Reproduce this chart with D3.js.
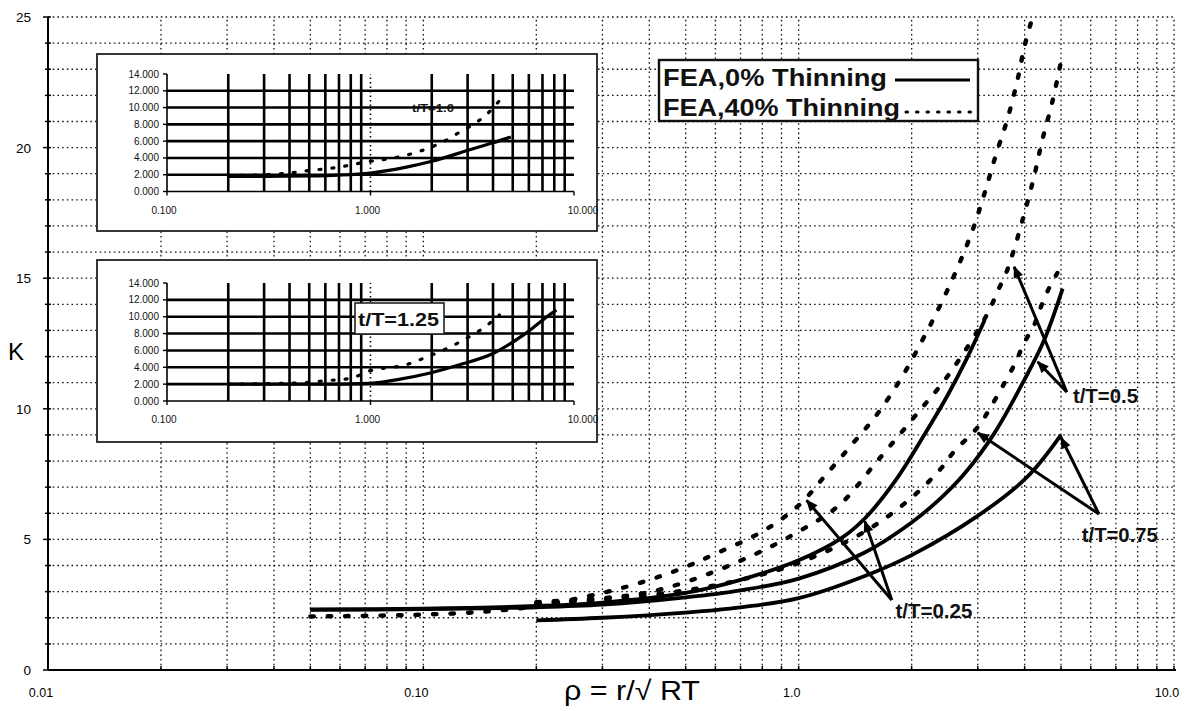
<!DOCTYPE html>
<html>
<head>
<meta charset="utf-8">
<script src="https://cdn.jsdelivr.net/npm/d3@7"></script>
<style>
  html, body { margin: 0; padding: 0; background: #fff; }
  svg { display: block; }
  text { font-family: "Liberation Sans", Arial, sans-serif; fill: #111; }
</style>
</head>
<body>
<svg id="chart" width="1188" height="711"></svg>
<script>
// ---------------- data ----------------
const xTickValues = [0.01, 0.1, 1, 10];
const xTickLabels = ["0.01", "0.10", "1.0", "10.0"];
const yTickValues = [0, 5, 10, 15, 20, 25];

// FEA, 0% thinning (solid curves), rho = r / sqrt(RT) against K
const rhoSolid025 = [0.05, 0.1, 0.2, 0.3, 0.5, 0.7, 1.0, 1.3, 1.5, 1.8, 2.16, 2.49, 2.8, 3.13];
const kSolid025   = [2.32, 2.35, 2.45, 2.58, 2.95, 3.45, 4.2, 5.05, 5.8, 7.2, 9.0, 10.5, 11.9, 13.4];

const rhoSolid050 = [0.05, 0.1, 0.2, 0.3, 0.5, 0.7, 1.0, 1.5, 2.0, 2.4, 2.76, 3.32, 3.99, 4.51, 5.05];
const kSolid050   = [2.3, 2.33, 2.4, 2.5, 2.78, 3.05, 3.5, 4.5, 5.65, 6.6, 7.5, 9.06, 11.1, 12.63, 14.6];

const rhoSolid075 = [0.2, 0.3, 0.5, 0.7, 1.0, 1.5, 2.0, 3.0, 4.07, 5.0];
const kSolid075   = [1.9, 2.0, 2.2, 2.4, 2.75, 3.6, 4.4, 5.9, 7.4, 9.0];

// FEA, 40% thinning (dotted curves)
const rhoDot025 = [0.05, 0.1, 0.15, 0.2, 0.3, 0.4, 0.5, 0.6, 0.8, 1.0, 1.17, 1.38, 1.62, 1.89, 2.14, 2.39, 2.65, 2.9, 3.12, 3.35, 3.6, 3.83, 4.0, 4.2];
const kDot025   = [2.05, 2.12, 2.25, 2.45, 2.95, 3.45, 3.95, 4.45, 5.3, 6.3, 7.4, 8.6, 9.8, 11.25, 12.65, 14.0, 15.4, 16.8, 18.2, 19.7, 21.1, 22.6, 23.9, 25.0];

const rhoDot050 = [0.2, 0.3, 0.39, 0.52, 0.77, 1.0, 1.28, 1.62, 2.12, 2.42, 2.74, 3.06, 3.25, 3.39, 3.57, 3.72, 3.98, 4.24, 4.46, 4.75, 5.0];
const kDot050   = [2.6, 2.75, 2.95, 3.45, 4.45, 5.3, 6.3, 8.0, 10.0, 11.0, 12.1, 13.2, 13.9, 14.5, 15.2, 15.95, 17.4, 18.9, 20.3, 21.8, 23.3];

const rhoDot075 = [0.2, 0.3, 0.5, 0.7, 1.0, 1.5, 2.0, 2.39, 2.59, 3.0, 3.32, 3.57, 3.79, 3.98, 4.24, 4.42, 4.64, 4.89];
const kDot075   = [2.55, 2.7, 3.05, 3.45, 4.1, 5.3, 6.6, 7.7, 8.35, 9.3, 10.3, 11.1, 11.8, 12.5, 13.2, 13.9, 14.6, 15.2];

// inset t/T = 1.0
const insetTickLabelsX = ["0.100", "1.000", "10.000"];
const insetTickValuesY = [0, 2, 4, 6, 8, 10, 12, 14];
const rhoInsetA0  = [0.2, 0.3, 0.5, 0.7, 1.0, 1.5, 2.0, 3.1, 4.0, 4.9];
const kInsetA0    = [1.8, 1.8, 1.85, 1.95, 2.2, 2.9, 3.6, 5.0, 5.8, 6.5];
const rhoInsetA40 = [0.2, 0.3, 0.4, 0.5, 0.6, 0.7, 0.85, 1.0, 1.3, 1.8, 2.35, 2.8, 3.3, 3.8, 4.4];
const kInsetA40   = [1.9, 2.0, 2.2, 2.5, 2.7, 2.9, 3.3, 3.6, 4.0, 4.9, 6.1, 7.2, 8.2, 9.4, 11.1];

// inset t/T = 1.25
const rhoInsetB0  = [0.2, 0.5, 1.0, 1.4, 1.94, 2.74, 4.05, 5.7, 7.75, 8.2];
const kInsetB0    = [2.0, 2.0, 2.1, 2.6, 3.3, 4.3, 5.7, 7.9, 10.4, 10.8];
const rhoInsetB40 = [0.2, 0.3, 0.45, 0.6, 0.8, 1.0, 1.1, 1.5, 1.75, 2.7, 3.7, 4.3];
const kInsetB40   = [2.0, 2.05, 2.15, 2.4, 2.7, 3.6, 3.8, 4.3, 4.9, 6.9, 8.9, 10.2];

// annotation labels and arrow tips, in data units (rho, K)
const annotations = [
  { text: "t/T=0.25", at: [1.81, 1.99], width: 77, from: [1.77, 2.68], tips: [[1.05, 6.5], [1.5, 5.7]] },
  { text: "t/T=0.5",  at: [5.38, 10.22], width: 65, from: [5.18, 10.64], tips: [[3.75, 15.44], [4.33, 11.8]] },
  { text: "t/T=0.75", at: [5.68, 4.9], width: 76, from: [6.31, 5.97], tips: [[3.0, 9.08], [5.0, 8.9]] }
];

// ---------------- layout ----------------
const svg = d3.select("#chart");
const x = d3.scaleLog().domain([0.01, 10]).range([48, 1174]);
const y = d3.scaleLinear().domain([0, 25]).range([670, 17]);

const zip = (xs, ys) => xs.map((v, i) => [v, ys[i]]);

// ---------------- grid ----------------
const grid = svg.append("g").attr("stroke", "#161616").attr("stroke-width", 1.3)
  .attr("stroke-dasharray", "1.6,3.1");
grid.selectAll("line.gx").data(x.ticks().filter(d => d > 0.0101))
  .join("line").attr("class", "gx")
  .attr("x1", d => x(d)).attr("x2", d => x(d))
  .attr("y1", y(0)).attr("y2", y(25));
grid.selectAll("line.gy").data(d3.range(1, 26))
  .join("line").attr("class", "gy")
  .attr("x1", x(0.01)).attr("x2", x(10))
  .attr("y1", d => y(d)).attr("y2", d => y(d));

// ---------------- axes ----------------
const axes = svg.append("g").attr("stroke", "#000");
axes.append("line").attr("x1", x(0.01)).attr("x2", x(10) + 2).attr("y1", y(0)).attr("y2", y(0)).attr("stroke-width", 2);
axes.append("line").attr("x1", x(0.01)).attr("x2", x(0.01)).attr("y1", y(0)).attr("y2", y(25)).attr("stroke-width", 2);
axes.selectAll("line.tx").data(x.ticks()).join("line").attr("class", "tx")
  .attr("x1", d => x(d)).attr("x2", d => x(d)).attr("y1", y(0)).attr("y2", y(0) - 4).attr("stroke-width", 1.5);
axes.selectAll("line.ty").data(d3.range(0, 26)).join("line").attr("class", "ty")
  .attr("x1", d => x(0.01) - (d % 5 === 0 ? 5 : 3)).attr("x2", x(0.01) + 3)
  .attr("y1", d => y(d)).attr("y2", d => y(d)).attr("stroke-width", 1.5);

svg.append("g").selectAll("text").data(xTickValues).join("text")
  .attr("x", d => x(d) - 7).attr("y", 697)
  .attr("text-anchor", "middle").attr("font-size", 12.5).style("fill", "#000")
  .text((d, i) => xTickLabels[i]);
svg.append("g").selectAll("text").data(yTickValues).join("text")
  .attr("x", 31).attr("y", d => y(d) + 5)
  .attr("text-anchor", "end").attr("font-size", 13.5).style("fill", "#000")
  .text(d => d);

svg.append("text").attr("x", 16).attr("y", 360).attr("text-anchor", "middle")
  .attr("font-size", 24).style("fill", "#000").text("K");
svg.append("text").attr("x", 632).attr("y", 700).attr("text-anchor", "middle")
  .attr("font-size", 27).style("fill", "#000")
  .attr("textLength", 136).attr("lengthAdjust", "spacingAndGlyphs")
  .text("ρ = r/√ RT");

// ---------------- insets ----------------
function drawInset(spec) {
  const g = svg.append("g");
  g.append("rect").attr("x", spec.box[0]).attr("y", spec.box[1])
    .attr("width", spec.box[2]).attr("height", spec.box[3])
    .attr("fill", "#fff").attr("stroke", "#222").attr("stroke-width", 1.8);
  const ix = d3.scaleLog().domain([0.1, 10]).range(spec.xRange);
  const iy = d3.scaleLinear().domain([0, 14]).range(spec.yRange);

  // grid
  g.selectAll("line.vg").data(ix.ticks().filter(d => d > 0.1001 && d < 9.99)).join("line")
    .attr("x1", d => ix(d)).attr("x2", d => ix(d))
    .attr("y1", iy(0)).attr("y2", iy(14))
    .attr("stroke", "#000")
    .attr("stroke-width", d => Math.abs(d - 1) < 1e-9 ? 1.6 : 2.6)
    .attr("stroke-dasharray", d => Math.abs(d - 1) < 1e-9 ? "1.5,3" : null);
  g.selectAll("line.hg").data(insetTickValuesY.filter(d => d > 0 && d < 14)).join("line")
    .attr("x1", ix(0.1)).attr("x2", ix(10))
    .attr("y1", d => iy(d)).attr("y2", d => iy(d))
    .attr("stroke", "#000").attr("stroke-width", 2.6);

  // axes
  g.append("line").attr("x1", ix(0.1)).attr("x2", ix(10)).attr("y1", iy(0)).attr("y2", iy(0))
    .attr("stroke", "#000").attr("stroke-width", 1.6);
  g.append("line").attr("x1", ix(0.1)).attr("x2", ix(0.1)).attr("y1", iy(0)).attr("y2", iy(14))
    .attr("stroke", "#000").attr("stroke-width", 1.6);
  g.selectAll("line.ity").data(insetTickValuesY).join("line")
    .attr("x1", ix(0.1) - 4).attr("x2", ix(0.1)).attr("y1", d => iy(d)).attr("y2", d => iy(d))
    .attr("stroke", "#000").attr("stroke-width", 1.4);
  g.selectAll("line.itx").data([0.1, 1, 10]).join("line")
    .attr("x1", d => ix(d)).attr("x2", d => ix(d)).attr("y1", iy(0)).attr("y2", iy(0) + 4)
    .attr("stroke", "#000").attr("stroke-width", 1.4);

  g.selectAll("text.ly").data(insetTickValuesY).join("text")
    .attr("x", ix(0.1) - 8).attr("y", d => iy(d) + 3.5)
    .attr("text-anchor", "end").attr("font-size", 10)
    .text(d => d3.format(".3f")(d));
  g.selectAll("text.lx").data([0.1, 1, 10]).join("text")
    .attr("x", (d, i) => ix(d) + (i === 2 ? 9 : -3)).attr("y", iy(0) + 22)
    .attr("text-anchor", "middle").attr("font-size", 10)
    .text((d, i) => insetTickLabelsX[i]);

  const line = d3.line().x(d => ix(d[0])).y(d => iy(d[1])).curve(d3.curveMonotoneX);
  g.append("path").attr("d", line(spec.solid)).attr("fill", "none")
    .attr("stroke", "#000").attr("stroke-width", 3.2);
  g.append("path").attr("d", line(spec.dotted)).attr("fill", "none")
    .attr("stroke", "#000").attr("stroke-width", 3.2)
    .attr("stroke-linecap", "round").attr("stroke-dasharray", "2,11");
  return { g, ix, iy };
}

const insetA = drawInset({
  box: [97, 54, 500, 177], xRange: [167, 574], yRange: [191.5, 74],
  solid: zip(rhoInsetA0, kInsetA0), dotted: zip(rhoInsetA40, kInsetA40)
});
insetA.g.append("text").attr("x", insetA.ix(1.6)).attr("y", insetA.iy(9.5))
  .attr("font-size", 10.5).attr("font-weight", "bold")
  .attr("textLength", 42).attr("lengthAdjust", "spacingAndGlyphs").text("t/T=1.0");

const insetB = drawInset({
  box: [97, 260, 500, 182], xRange: [167, 574], yRange: [401, 283],
  solid: zip(rhoInsetB0, kInsetB0), dotted: zip(rhoInsetB40, kInsetB40)
});
insetB.g.append("rect").attr("x", 355).attr("y", 303).attr("width", 89).attr("height", 31)
  .attr("fill", "#fff").attr("stroke", "#222").attr("stroke-width", 1.6);
insetB.g.append("text").attr("x", 358).attr("y", 326)
  .attr("font-size", 18).attr("font-weight", "bold")
  .attr("textLength", 81).attr("lengthAdjust", "spacingAndGlyphs").text("t/T=1.25");

// ---------------- legend ----------------
const legend = svg.append("g");
legend.append("rect").attr("x", 659).attr("y", 60).attr("width", 319).attr("height", 61)
  .attr("fill", "#fff").attr("stroke", "#111").attr("stroke-width", 2.4);
legend.append("text").attr("x", 663).attr("y", 86).attr("font-size", 23).attr("font-weight", "bold")
  .attr("textLength", 224).attr("lengthAdjust", "spacingAndGlyphs").text("FEA,0% Thinning");
legend.append("text").attr("x", 663).attr("y", 116).attr("font-size", 23).attr("font-weight", "bold")
  .attr("textLength", 237).attr("lengthAdjust", "spacingAndGlyphs").text("FEA,40% Thinning");
legend.append("line").attr("x1", 895).attr("x2", 970).attr("y1", 80).attr("y2", 80)
  .attr("stroke", "#000").attr("stroke-width", 3.2);
legend.append("line").attr("x1", 906).attr("x2", 972).attr("y1", 112).attr("y2", 112)
  .attr("stroke", "#000").attr("stroke-width", 3).attr("stroke-linecap", "round")
  .attr("stroke-dasharray", "1.5,9");

// ---------------- main curves ----------------
const mainLine = d3.line().x(d => x(d[0])).y(d => y(d[1])).curve(d3.curveCatmullRom.alpha(0.5));
const curves = svg.append("g").attr("fill", "none").attr("stroke", "#000");
[[rhoSolid025, kSolid025], [rhoSolid050, kSolid050], [rhoSolid075, kSolid075]].forEach(([r, k]) => {
  curves.append("path").attr("d", mainLine(zip(r, k))).attr("stroke-width", 3.8);
});
[[rhoDot025, kDot025], [rhoDot050, kDot050], [rhoDot075, kDot075]].forEach(([r, k]) => {
  curves.append("path").attr("d", mainLine(zip(r, k))).attr("stroke-width", 4.4)
    .attr("stroke-linecap", "round").attr("stroke-dasharray", "3.5,14");
});

// ---------------- annotations ----------------
svg.append("defs").append("marker").attr("id", "arrowhead")
  .attr("viewBox", "0 0 12 10").attr("refX", 11).attr("refY", 5)
  .attr("markerWidth", 13).attr("markerHeight", 10)
  .attr("markerUnits", "userSpaceOnUse").attr("orient", "auto")
  .append("path").attr("d", "M0,0 L12,5 L0,10 Z").attr("fill", "#000");

const ann = svg.append("g");
annotations.forEach(a => {
  a.tips.forEach(t => {
    ann.append("line")
      .attr("x1", x(a.from[0])).attr("y1", y(a.from[1]))
      .attr("x2", x(t[0])).attr("y2", y(t[1]))
      .attr("stroke", "#000").attr("stroke-width", 3)
      .attr("marker-end", "url(#arrowhead)");
  });
  ann.append("text").attr("x", x(a.at[0])).attr("y", y(a.at[1]))
    .attr("font-size", 21).attr("font-weight", "bold")
    .attr("textLength", a.width).attr("lengthAdjust", "spacingAndGlyphs")
    .text(a.text);
});
</script>
</body>
</html>
